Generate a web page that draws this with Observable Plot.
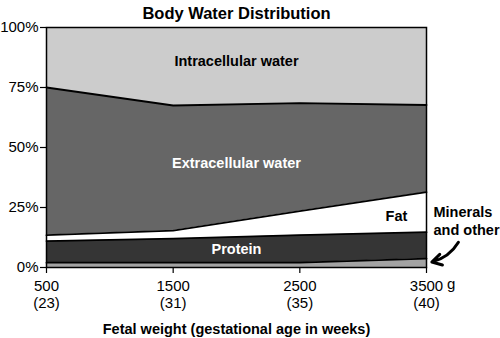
<!DOCTYPE html>
<html>
<head>
<meta charset="utf-8">
<script src="https://cdn.jsdelivr.net/npm/d3@7"></script>
<script src="https://cdn.jsdelivr.net/npm/@observablehq/plot@0.6"></script>
<style>
  html, body { margin: 0; padding: 0; background: #fff; }
</style>
</head>
<body>
<div id="chart"></div>
<script>
// Fetal weight (g) and gestational age (weeks)
const weights = [500, 1500, 2500, 3500];
const ages = [23, 31, 35, 40];

// Layers, bottom to top, in percent of body weight
const layers = ["Minerals and other", "Protein", "Fat", "Extracellular water", "Intracellular water"];
const minerals      = [2.0, 2.0, 2.0, 3.7];
const protein       = [9.0, 10.0, 11.5, 11.0];
const fat           = [2.5, 3.4, 10.0, 16.7];
const extracellular = [61.5, 52.1, 45.0, 36.3];
const intracellular = [25.0, 32.5, 31.5, 32.3];
const series = [minerals, protein, fat, extracellular, intracellular];
const fills = ["#a3a3a3", "#353535", "#ffffff", "#666666", "#cccccc"];

const yTicks = [0, 25, 50, 75, 100];

// Annotation labels (data coordinates)
const labelText  = ["Intracellular water", "Extracellular water", "Fat", "Protein"];
const labelX     = [2000, 2000, 3263, 2000];
const labelY     = [86, 43.5, 21.5, 7.7];
const labelColor = ["black", "white", "black", "white"];

const calloutText = ["Minerals\nand other"];
const calloutX = [3555], calloutY = [19.6];
const arrowRows = [{x1: 3752, y1: 10.5, x2: 3542, y2: 2.3}];

const rows = [];
layers.forEach((layer, li) => {
  weights.forEach((w, i) => rows.push({layer, x: w, value: series[li][i]}));
});
const lineRows = rows.filter(d => d.layer !== "Intracellular water");

const font = "'Liberation Sans', Arial, Helvetica, sans-serif";

const chart = Plot.plot({
  width: 500,
  height: 338,
  marginLeft: 46,
  marginRight: 74,
  marginTop: 27,
  marginBottom: 71,
  style: {fontFamily: font, fontSize: "14px", background: "#fff", color: "black", overflow: "visible"},
  x: {domain: [500, 3500]},
  y: {domain: [0, 100]},
  color: {domain: layers, range: fills},
  marks: [
    Plot.areaY(rows, {x: "x", y: "value", fill: "layer", order: layers}),
    Plot.lineY(lineRows, Plot.stackY2({x: "x", y: "value", z: "layer", order: layers, stroke: "black", strokeWidth: 1.8})),
    Plot.frame({stroke: "black", strokeWidth: 1.5}),
    Plot.axisY({ticks: yTicks, tickFormat: d => d + "%", tickSize: 6, tickPadding: 2, fontSize: 15, label: null, stroke: "black", strokeWidth: 1.2}),
    Plot.axisX({ticks: weights, tickFormat: (d, i) => `${d}\n(${ages[i]})`, tickSize: 6, tickPadding: 5, fontSize: 15, lineHeight: 1.15, label: null, stroke: "black", strokeWidth: 1.2}),
    Plot.text([weights[weights.length - 1]], {x: d => d, frameAnchor: "bottom", dy: 11, dx: 20.5, lineAnchor: "top", textAnchor: "start", text: () => "g", fontSize: 15}),
    Plot.text(labelText, {x: (d, i) => labelX[i], y: (d, i) => labelY[i], text: d => d, fill: (d, i) => labelColor[i], fontWeight: "bold", fontSize: 14.5}),
    Plot.text(calloutText, {x: calloutX, y: calloutY, text: d => d, textAnchor: "start", fontWeight: "bold", fontSize: 14.5, lineHeight: 1.2, fill: "black"}),
    Plot.arrow(arrowRows, {x1: "x1", y1: "y1", x2: "x2", y2: "y2", bend: true, stroke: "black", strokeWidth: 3, headLength: 6}),
    Plot.text(["Body Water Distribution"], {frameAnchor: "top", dy: -20, text: d => d, fontWeight: "bold", fontSize: 16.5, fill: "black"}),
    Plot.text(["Fetal weight (gestational age in weeks)"], {frameAnchor: "bottom", dy: 66, text: d => d, fontWeight: "bold", fontSize: 14.5, fill: "black"})
  ]
});
document.getElementById("chart").appendChild(chart);
</script>
</body>
</html>
